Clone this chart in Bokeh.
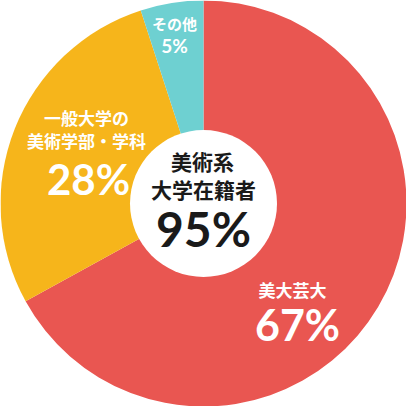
import math
from bokeh.plotting import figure
from bokeh.models import Range1d
from bokeh.core.properties import value
from bokeh.embed import file_html
from bokeh.resources import INLINE

# Data
categories = ["美大芸大", "一般大学の\n美術学部・学科", "その他"]
shares = [67, 28, 5]
colors = ["#E95651", "#F6B51B", "#6ED0D1"]
center_title = ["美術系", "大学在籍者"]
center_value = 95

W = 406
p = figure(width=W, height=W, output_backend="svg", toolbar_location=None,
           x_range=Range1d(0, 406), y_range=Range1d(0, 406), min_border=0)
p.axis.visible = False
p.grid.visible = False
p.outline_line_color = None
p.background_fill_color = "white"
p.border_fill_color = "white"

def Y(y):
    return 406 - y

cx, cy = 203, Y(203)
total = sum(shares)
cum = 0
starts, ends = [], []
for s in shares:
    a0 = cum / total
    cum += s
    a1 = cum / total
    starts.append(math.pi / 2 - a1 * 2 * math.pi)
    ends.append(math.pi / 2 - a0 * 2 * math.pi)

p.annular_wedge(x=[cx] * 3, y=[cy] * 3, inner_radius=0, outer_radius=203,
                start_angle=starts, end_angle=ends, fill_color=colors,
                line_color=None, direction="anticlock")
p.scatter(x=[cx], y=[cy], size=147, marker="circle", fill_color="white", line_color=None)

jp = value("Noto Sans CJK JP")
num = value("Lato")

def txt(x, y, t, size, font, color="white", style="bold"):
    p.text(x=[x], y=[Y(y)], text=[t], text_font=font, text_font_size=f"{size}px",
           text_font_style=style, text_color=color, text_align="center",
           text_baseline="middle")

# その他
txt(174, 23, categories[2], 15, jp)
txt(174, 45, f"{shares[2]}%", 19, num)
# 一般大学
l1, l2 = categories[1].split("\n")
txt(86, 117, l1, 17, jp)
txt(86, 140, l2, 17, jp)
txt(88, 178, f"{shares[1]}%", 42, num)
# 美大芸大
txt(292, 289, categories[0], 17, jp)
txt(297, 324, f"{shares[0]}%", 43, num)
# center
txt(202, 160, center_title[0], 21, jp, color="#1a1a1a")
txt(203, 188, center_title[1], 21, jp, color="#1a1a1a")
txt(203, 228, f"{center_value}%", 48, num, color="#1a1a1a")

open("out.html", "w").write(file_html(p, INLINE))
